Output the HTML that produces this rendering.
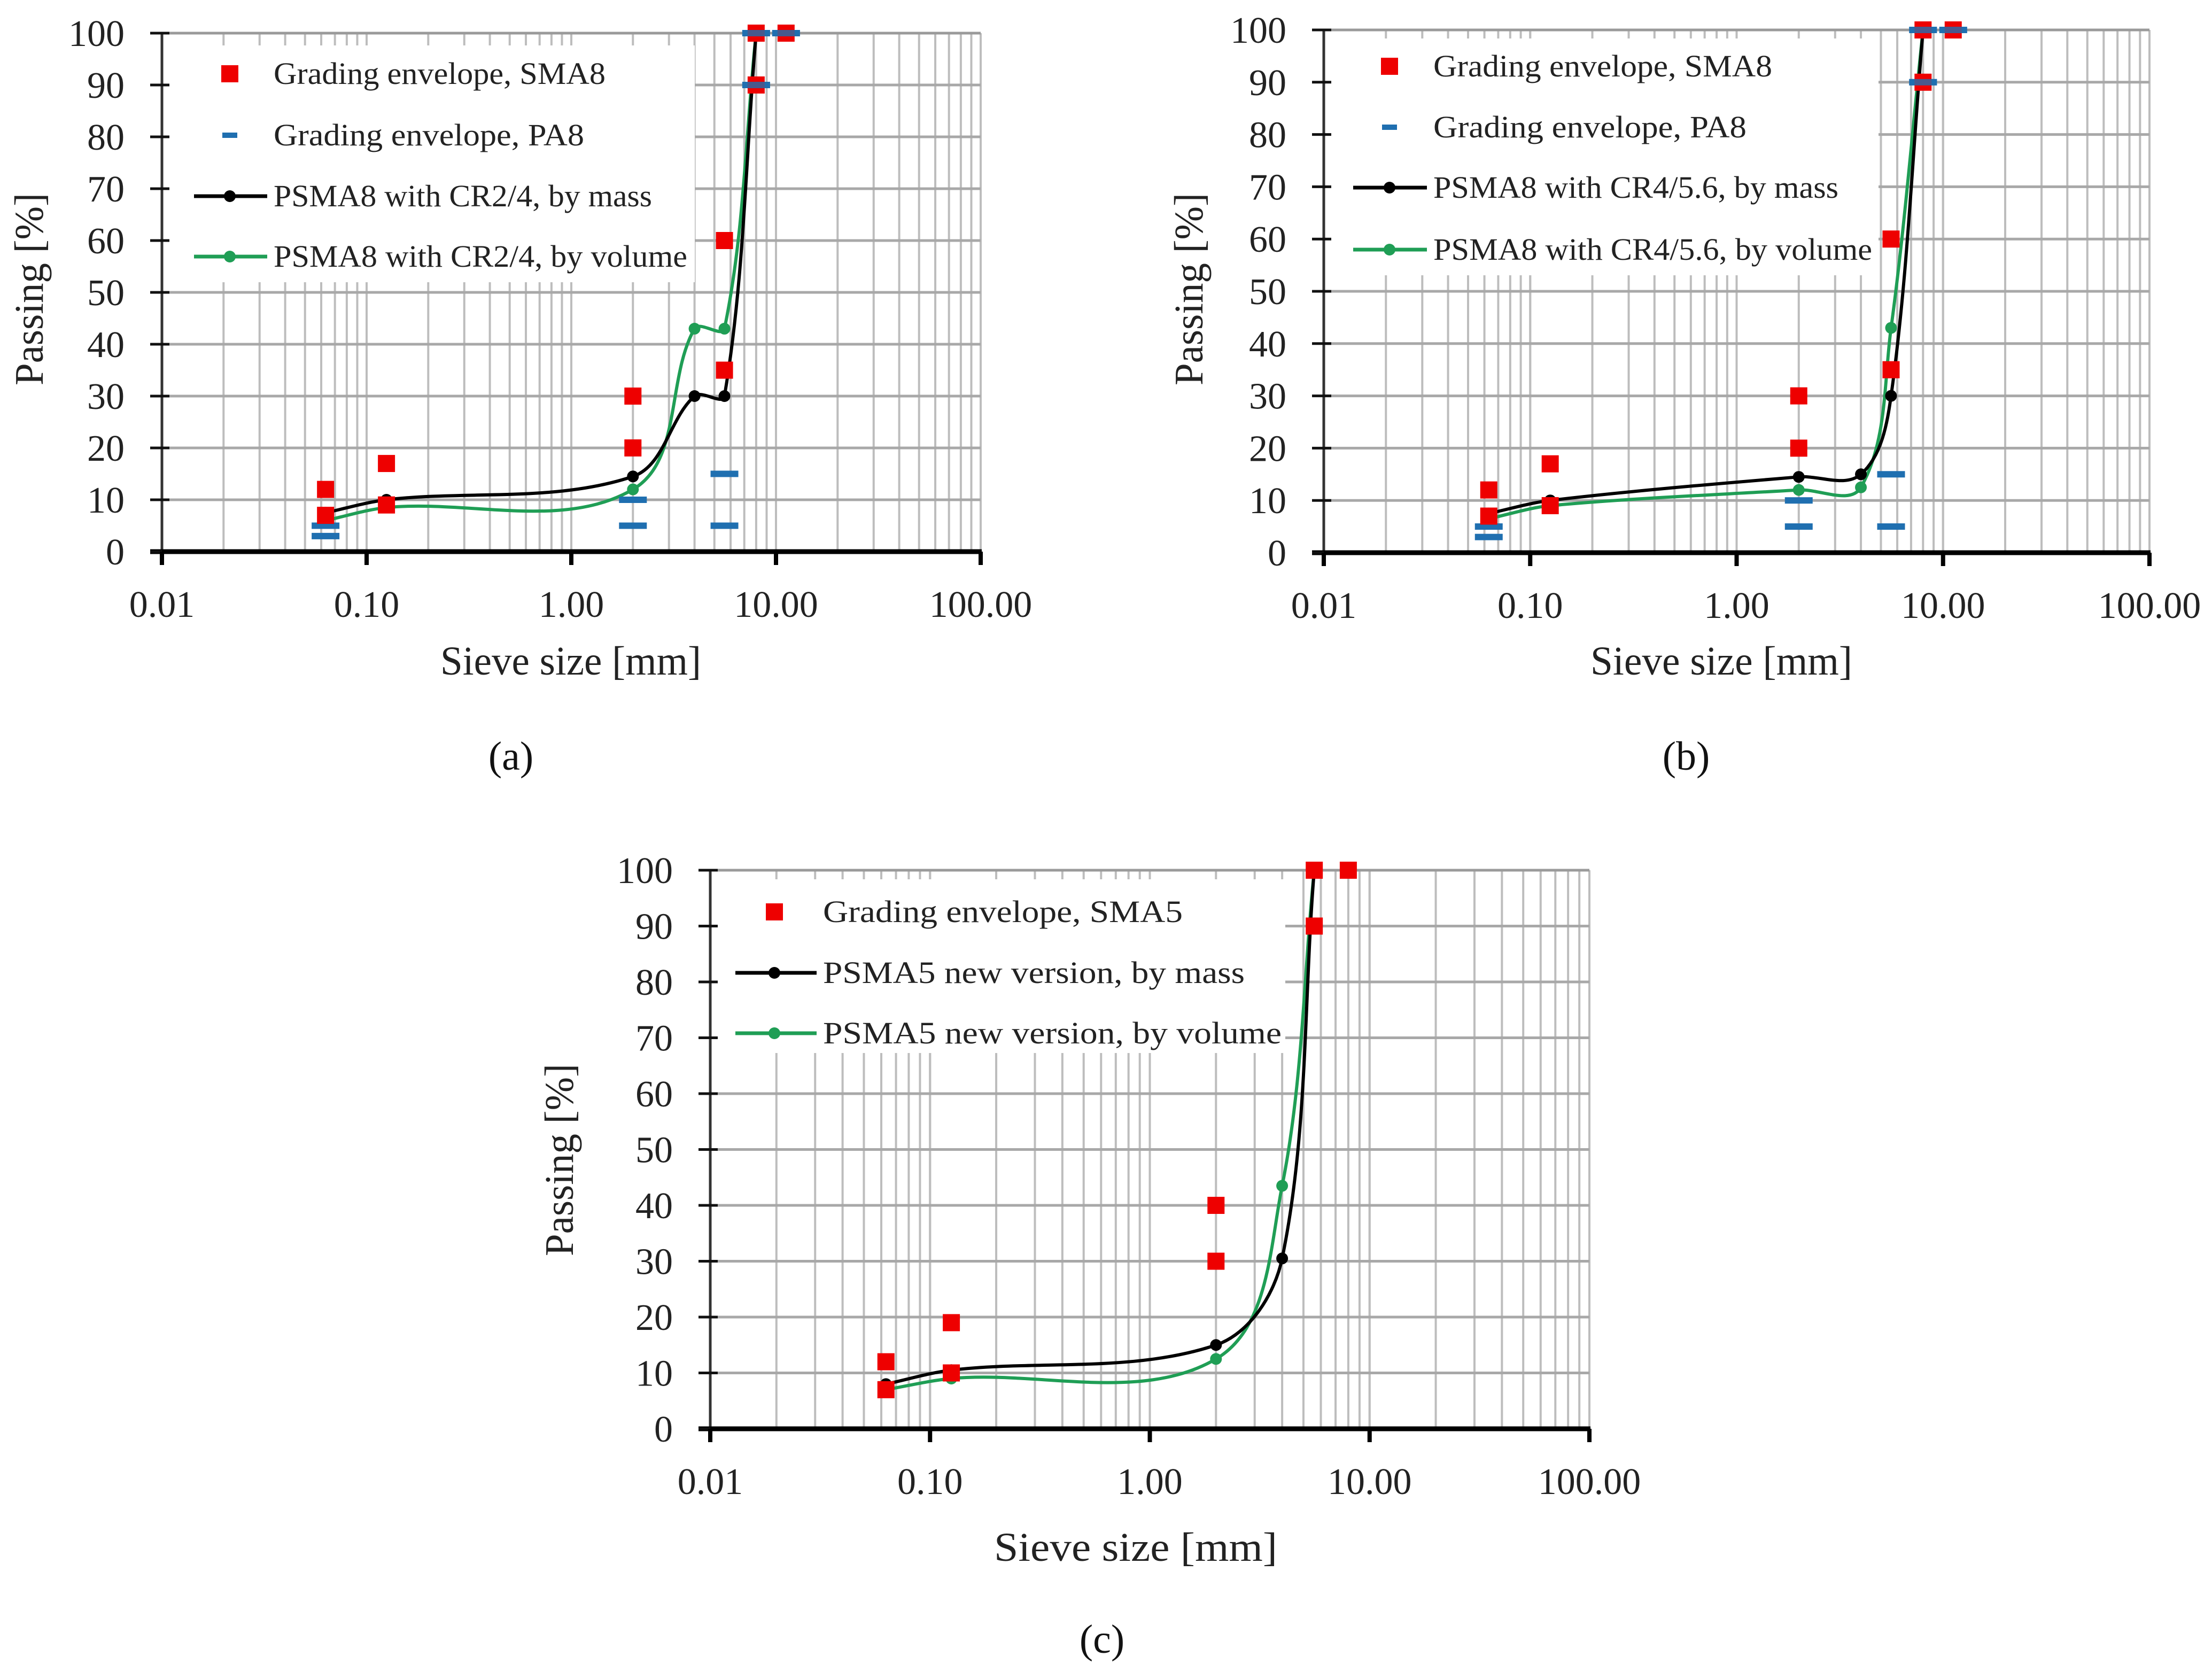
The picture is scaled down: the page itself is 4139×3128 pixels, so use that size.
<!DOCTYPE html>
<html><head><meta charset="utf-8"><title>Grading curves</title>
<style>
html,body{margin:0;padding:0;background:#fff;}
svg{display:block;font-family:"Liberation Serif",serif;}
</style></head>
<body>
<svg id="fig" width="4139" height="3128" viewBox="0 0 4139 3128" xmlns="http://www.w3.org/2000/svg"></svg>
<script>
// ---- data ----
const yTicks = [0,10,20,30,40,50,60,70,80,90,100];
const xTickVals = [0.01,0.1,1,10,100];
const xTickLabels = ["0.01","0.10","1.00","10.00","100.00"];

const aSmaX = [0.063,0.063,0.125,0.125,2,2,5.6,5.6,8,8,11.2];
const aSmaY = [12,7,17,9,30,20,60,35,100,90,100];
const aPaX = [0.063,0.063,2,2,5.6,5.6,8,8,11.2];
const aPaY = [5,3,10,5,15,5,100,90,100];
const aMassX = [0.063,0.125,2,4,5.6,8];
const aMassY = [7.5,10,14.5,30,30,100];
const aVolX = [0.063,0.125,2,4,5.6,8];
const aVolY = [6,8.5,12,43,43,100];

const bSmaX = [0.063,0.063,0.125,0.125,2,2,5.6,5.6,8,8,11.2];
const bSmaY = [12,7,17,9,30,20,60,35,100,90,100];
const bPaX = [0.063,0.063,2,2,5.6,5.6,8,8,11.2];
const bPaY = [5,3,10,5,15,5,100,90,100];
const bMassX = [0.063,0.125,2,4,5.6,8];
const bMassY = [7.5,10,14.5,15,30,100];
const bVolX = [0.063,0.125,2,4,5.6,8];
const bVolY = [6.5,9,12,12.5,43,100];

const cSmaX = [0.063,0.063,0.125,0.125,2,2,5.6,5.6,8];
const cSmaY = [12,7,19,10,40,30,100,90,100];
const cMassX = [0.063,0.125,2,4,5.6];
const cMassY = [8,10.5,15,30.5,100];
const cVolX = [0.063,0.125,2,4,5.6];
const cVolY = [7,9,12.5,43.5,100];

const legendA = ["Grading envelope, SMA8","Grading envelope, PA8","PSMA8 with CR2/4, by mass","PSMA8 with CR2/4, by volume"];
const legendB = ["Grading envelope, SMA8","Grading envelope, PA8","PSMA8 with CR4/5.6, by mass","PSMA8 with CR4/5.6, by volume"];
const legendC = ["Grading envelope, SMA5","PSMA5 new version, by mass","PSMA5 new version, by volume"];

// ---- drawing ----
const NS="http://www.w3.org/2000/svg";
const svg=document.getElementById('fig');
function mk(tag,attrs,parent){const e=document.createElementNS(NS,tag);for(const k in attrs)e.setAttribute(k,attrs[k]);(parent||svg).appendChild(e);return e;}

const GREEN="#1f9e55", RED="#ee0000", BLUE="#1f6fb0";

function dist(a,b){return Math.hypot(b[0]-a[0],b[1]-a[1]);}
function smoothPath(pts){
  if(pts.length<2)return "";
  const n=pts.length;
  const tan=pts.map((p,i)=>{
    const p0=pts[i-1]||p,p2=pts[i+1]||p;
    const d0=i>0?dist(p0,p):0,d1=i<n-1?dist(p,p2):0;
    const tot=dist(p0,p2)||1;
    return {v:[(p2[0]-p0[0])/tot,(p2[1]-p0[1])/tot],d0:d0,d1:d1};
  });
  let d="M"+pts[0][0]+","+pts[0][1];
  for(let i=0;i<n-1;i++){
    const p1=pts[i],p2=pts[i+1],L=dist(p1,p2);
    const k=L*0.33;
    const c1=[p1[0]+tan[i].v[0]*k,p1[1]+tan[i].v[1]*k];
    const c2=[p2[0]-tan[i+1].v[0]*k,p2[1]-tan[i+1].v[1]*k];
    d+=" C"+c1[0]+","+c1[1]+" "+c2[0]+","+c2[1]+" "+p2[0]+","+p2[1];
  }
  return d;
}

function panel(cfg){
  const g=mk('g',{});
  
  
  const L=cfg.x0,R=cfg.x1,T=cfg.yTop,B=cfg.yBot;
  const X=v=>L+(Math.log10(v)+2)/4*(R-L);
  const Y=v=>B-v/100*(B-T);
  const grid=mk('g',{},g);
  
  
  for(let e=-2;e<2;e++){
    for(let m=1;m<=10;m++){
      const v=m*Math.pow(10,e);
      if(m===1&&e===-2)continue;
      mk('line',{x1:X(v),x2:X(v),y1:T,y2:B,stroke:"#bdbdbd","stroke-width":4},grid);
    }
  }
  yTicks.forEach(t=>{ if(t>0) mk('line',{x1:L,x2:R,y1:Y(t),y2:Y(t),stroke:t===100?"#9a9a9a":"#a8a8a8","stroke-width":5},grid);});
  const lb=mk('rect',{x:L+4,y:cfg.legBox[1],width:cfg.legBox[2]-L-4,height:cfg.legBox[3]-cfg.legBox[1],fill:"#fff"},g);
  
  
  const ya=mk('line',{x1:L,x2:L,y1:T,y2:B,stroke:"#333","stroke-width":5},g);
  
  
  const xa=mk('line',{x1:L-22,x2:R+2,y1:B,y2:B,stroke:"#000","stroke-width":9},g);
  
  
  yTicks.forEach(t=>{
    mk('line',{x1:L-22,x2:L+(t===0?0:14),y1:Y(t),y2:Y(t),stroke:"#111","stroke-width":5},g);
    const tx=mk('text',{x:L-70,y:Y(t)+24,"font-size":70,"text-anchor":"end",fill:"#222"},g);
    tx.textContent=String(t);
    
    
  });
  xTickVals.forEach((v,i)=>{
    mk('line',{x1:X(v),x2:X(v),y1:B,y2:B+25,stroke:"#000","stroke-width":8},g);
    const tx=mk('text',{x:X(v),y:B+122,"font-size":70,"text-anchor":"middle",fill:"#222"},g);
    tx.textContent=xTickLabels[i];
    
    
  });
  const xt=mk('text',{x:cfg.xTitle[0],y:cfg.xTitle[1],"font-size":76,"text-anchor":"middle",fill:"#222",textLength:cfg.xTitle[2],lengthAdjust:"spacingAndGlyphs"},g);
  xt.textContent="Sieve size [mm]";
  
  
  const yt=mk('text',{x:0,y:0,"font-size":76,"text-anchor":"middle",fill:"#222",transform:"translate("+cfg.yTitle[0]+","+cfg.yTitle[1]+") rotate(-90)",textLength:360,lengthAdjust:"spacingAndGlyphs"},g);
  yt.textContent="Passing [%]";
  
  
  const pl=mk('text',{x:cfg.label[0],y:cfg.label[1],"font-size":76,"text-anchor":"middle",fill:"#111"},g);
  pl.textContent=cfg.label[2];
  
  
  cfg.lines.forEach(ln=>{
    const pts=ln.xs.map((x,i)=>[X(x),Y(ln.ys[i])]);
    const p=mk('path',{d:smoothPath(pts),fill:"none",stroke:ln.color,"stroke-width":6},g);
    
    
    pts.forEach(pt=>{
      const c=mk('circle',{cx:pt[0],cy:pt[1],r:11,fill:ln.color},g);
      
      
    });
  });
  if(cfg.pa){
    cfg.pa.xs.forEach((x,i)=>{
      const r=mk('rect',{x:X(x)-26,y:Y(cfg.pa.ys[i])-6,width:52,height:12,fill:BLUE},g);
      
      
    });
  }
  cfg.sma.xs.forEach((x,i)=>{
    const r=mk('rect',{x:X(x)-16,y:Y(cfg.sma.ys[i])-16,width:32,height:32,fill:RED},g);
    
    
  });
  if(cfg.pa){
    cfg.pa.xs.forEach((x,i)=>{
      if(cfg.pa.ys[i]>=90){
        const r=mk('rect',{x:X(x)-26,y:Y(cfg.pa.ys[i])-6,width:52,height:12,fill:BLUE,opacity:0.8},g);
        
        
      }
    });
  }
  const lg=mk('g',{},g);
  
  
  cfg.legend.forEach((it,i)=>{
    const y=cfg.legRows[i];
    if(it.type==="sq") mk('rect',{x:cfg.legMark-16,y:y-16,width:32,height:32,fill:RED},lg);
    else if(it.type==="dash") mk('rect',{x:cfg.legMark-14,y:y-5,width:28,height:10,fill:BLUE},lg);
    else {
      mk('line',{x1:cfg.legLine[0],x2:cfg.legLine[1],y1:y,y2:y,stroke:it.color,"stroke-width":7},lg);
      mk('circle',{cx:cfg.legMark,cy:y,r:11,fill:it.color},lg);
    }
    const t=mk('text',{x:cfg.legText,y:y+19,"font-size":58,fill:"#222",textLength:it.w,lengthAdjust:"spacingAndGlyphs"},lg);
    t.textContent=it.text;
    
    
  });
}

panel({name:"panel-a",x0:303,x1:1835,yTop:62,yBot:1032,
  legBox:[303,85,1300,528],
  xTitle:[1068,1262,488],yTitle:[80,541],label:[956,1440,"(a)"],
  lines:[{xs:aVolX,ys:aVolY,color:GREEN,name:"volume"},{xs:aMassX,ys:aMassY,color:"#000",name:"mass"}],
  pa:{xs:aPaX,ys:aPaY},sma:{xs:aSmaX,ys:aSmaY},
  legMark:430,legText:512,legLine:[363,500],legRows:[138,253,367,480],
  legend:[{type:"sq",text:legendA[0],w:621},{type:"dash",text:legendA[1],w:581},{type:"line",color:"#000",text:legendA[2],w:708},{type:"line",color:GREEN,text:legendA[3],w:774}]});

panel({name:"panel-b",x0:2477,x1:4022,yTop:56,yBot:1034,
  legBox:[2477,72,3515,515],
  xTitle:[3221,1262,490],yTitle:[2250,541],label:[3155,1440,"(b)"],
  lines:[{xs:bVolX,ys:bVolY,color:GREEN,name:"volume"},{xs:bMassX,ys:bMassY,color:"#000",name:"mass"}],
  pa:{xs:bPaX,ys:bPaY},sma:{xs:bSmaX,ys:bSmaY},
  legMark:2600,legText:2682,legLine:[2532,2670],legRows:[124,238,351,467],
  legend:[{type:"sq",text:legendB[0],w:634},{type:"dash",text:legendB[1],w:586},{type:"line",color:"#000",text:legendB[2],w:758},{type:"line",color:GREEN,text:legendB[3],w:821}]});

panel({name:"panel-c",x0:1329,x1:2974,yTop:1628,yBot:2673,
  legBox:[1329,1645,2405,1970],
  xTitle:[2125,2920,530],yTitle:[1072,2170],label:[2062,3092,"(c)"],
  lines:[{xs:cVolX,ys:cVolY,color:GREEN,name:"volume"},{xs:cMassX,ys:cMassY,color:"#000",name:"mass"}],
  pa:null,sma:{xs:cSmaX,ys:cSmaY},
  legMark:1449,legText:1540,legLine:[1376,1528],legRows:[1706,1820,1933],
  legend:[{type:"sq",text:legendC[0],w:673},{type:"line",color:"#000",text:legendC[1],w:789},{type:"line",color:GREEN,text:legendC[2],w:858}]});
</script>
</body></html>
